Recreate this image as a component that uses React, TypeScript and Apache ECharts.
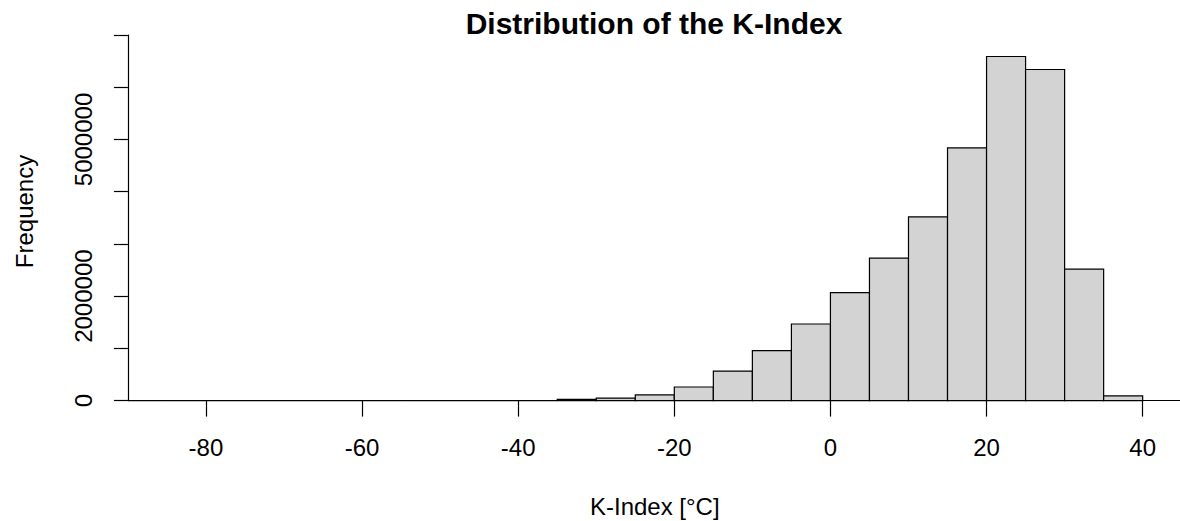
import React, { useEffect, useRef } from "react";
import * as echarts from "echarts";

// Histogram bin edges (K-Index, °C)
const breaks = [
  -90, -85, -80, -75, -70, -65, -60, -55, -50, -45, -40, -35, -30, -25,
  -20, -15, -10, -5, 0, 5, 10, 15, 20, 25, 30, 35, 40,
];
// Frequency per bin
const counts = [
  0, 0, 0, 0, 0, 0, 0, 0, 0, 0, 0, 23000, 48000, 110000, 260000, 566000,
  955000, 1467000, 2067000, 2727000, 3519000, 4837000, 6588000, 6339000,
  2516000, 90000,
];
const xTicks = [-80, -60, -40, -20, 0, 20, 40];
const yLabelValues = [0, 2000000, 5000000];

const FONT = "'Liberation Sans', Arial, sans-serif";

export default function App() {
  const ref = useRef<HTMLDivElement>(null);
  useEffect(() => {
    if (!ref.current) return;
    const chart = echarts.init(ref.current, undefined, { renderer: "svg" });
    const data = counts.map((c, i) => [breaks[i], breaks[i + 1], c]);
    const gridLeft = 127.9;
    const gridTop = 35;
    chart.setOption({
      animation: false,
      backgroundColor: "#ffffff",
      title: {
        text: "Distribution of the K-Index",
        left: 649,
        top: 3,
        textAlign: "center",
        textStyle: {
          fontFamily: FONT,
          fontSize: 30,
          fontWeight: "bold",
          color: "#000",
        },
      },
      grid: {
        left: gridLeft,
        top: gridTop,
        width: 1053.8,
        height: 365.6,
        outerBoundsMode: "none",
        containLabel: false,
      },
      xAxis: {
        type: "value",
        min: -90,
        max: 45,
        name: "K-Index [°C]",
        nameLocation: "middle",
        nameGap: 106,
        nameTextStyle: {
          fontFamily: FONT,
          fontSize: 24,
          color: "#000",
          verticalAlign: "middle",
        },
        axisLine: {
          show: true,
          onZero: false,
          lineStyle: { color: "#000", width: 1.2 },
        },
        axisTick: {
          show: true,
          length: 16,
          customValues: xTicks,
          lineStyle: { color: "#000", width: 1.2 },
        },
        axisLabel: {
          customValues: xTicks,
          margin: 47,
          fontFamily: FONT,
          fontSize: 24,
          color: "#000",
          verticalAlign: "middle",
        },
        splitLine: { show: false },
      },
      yAxis: {
        type: "value",
        min: 0,
        max: 7000000,
        interval: 1000000,
        axisLine: {
          show: true,
          onZero: false,
          lineStyle: { color: "#000", width: 1.2 },
        },
        axisTick: {
          show: true,
          length: 14,
          lineStyle: { color: "#000", width: 1.2 },
        },
        axisLabel: {
          customValues: yLabelValues,
          rotate: 90,
          margin: 44,
          align: "center",
          verticalAlign: "middle",
          fontFamily: FONT,
          fontSize: 24,
          color: "#000",
          formatter: (v: number) => String(v),
        },
        splitLine: { show: false },
      },
      graphic: [
        {
          type: "text",
          x: 24,
          y: 211.5,
          rotation: Math.PI / 2,
          style: {
            text: "Frequency",
            fontFamily: FONT,
            fontSize: 24,
            fill: "#000",
            align: "center",
            verticalAlign: "middle",
          },
        },
      ],
      series: [
        {
          type: "custom",
          data,
          encode: { x: [0, 1], y: 2 },
          clip: false,
          renderItem: (params: any, api: any) => {
            const x0 = api.value(0);
            const x1 = api.value(1);
            const c = api.value(2);
            const p0 = api.coord([x0, c]);
            const p1 = api.coord([x1, 0]);
            return {
              type: "rect",
              shape: {
                x: p0[0],
                y: p0[1],
                width: p1[0] - p0[0],
                height: p1[1] - p0[1],
              },
              style: { fill: "#d3d3d3", stroke: "#000", lineWidth: 1.2 },
            };
          },
        },
      ],
    });
    return () => chart.dispose();
  }, []);
  return (
    <div
      ref={ref}
      style={{ position: "absolute", left: 0, top: 0, width: 1180, height: 521 }}
    />
  );
}
